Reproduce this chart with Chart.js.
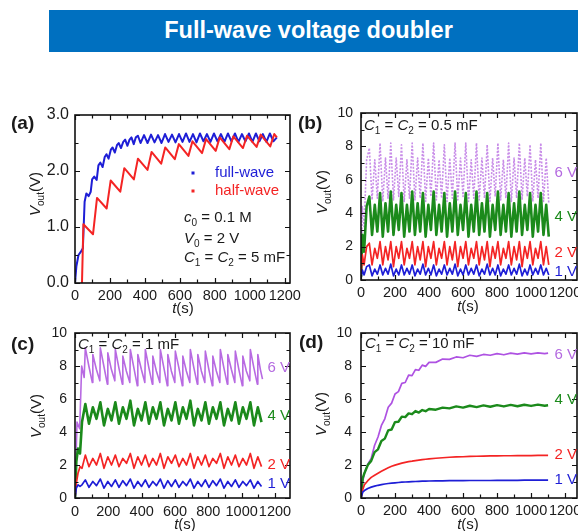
<!DOCTYPE html>
<html><head><meta charset="utf-8">
<script src="https://cdn.jsdelivr.net/npm/chart.js@4/dist/chart.umd.min.js"></script>
<style>
html,body{margin:0;padding:0;background:#fff;}
#wrap{position:relative;width:578px;height:531px;overflow:hidden;background:#fff;}
#wrap canvas{position:absolute;left:0;top:0;}
#banner{position:absolute;left:49px;top:10px;width:540px;height:42px;background:#0070c0;color:#fff;font:bold 23.5px "Liberation Sans",Arial,sans-serif;line-height:40px;}
#banner span{position:absolute;left:0;top:0;width:519px;text-align:center;}
</style></head>
<body><div id="wrap">
<div id="banner"><span>Full-wave voltage doubler</span></div>
<canvas id="ca" width="578" height="531"></canvas>
<canvas id="cb" width="578" height="531"></canvas>
<canvas id="cc" width="578" height="531"></canvas>
<canvas id="cd" width="578" height="531"></canvas>
</div>
<script>
// ---------- tick labels ----------
const X_TICKS = [0,100,200,300,400,500,600,700,800,900,1000,1100,1200];
const Y_TICKS_A = [0,0.5,1,1.5,2,2.5,3];
const Y_TICKS = [0,1,2,3,4,5,6,7,8,9,10];

// ---------- panel (a): C1 = C2 = 5 mF ----------
const A_FULL_T = [0,8,20,32,45,55,65,78,90,98,110,124,134,145,158,170,180,192,205,215,228,240,250,263,276,287,300,312,323,336,348,360,375,
  395,415,435,455,475,495,515,535,555,575,595,615,635,655,675,695,715,735,755,775,795,815,835,855,875,895,915,935,955,975,995,1015,1035,1055,1075,1095,1115,1135,1155];
const A_FULL_V = [0,0.3,0.5,0.55,0.62,1.45,1.6,1.55,1.63,1.85,1.9,1.84,2.1,2.15,2.07,2.25,2.3,2.22,2.38,2.42,2.33,2.46,2.5,2.41,2.52,2.56,2.45,2.56,2.6,2.48,2.6,2.63,2.5,
  2.64,2.5,2.65,2.51,2.64,2.5,2.66,2.52,2.65,2.51,2.66,2.52,2.67,2.52,2.66,2.51,2.67,2.53,2.66,2.52,2.67,2.53,2.66,2.52,2.67,2.53,2.67,2.52,2.66,2.53,2.67,2.52,2.67,2.53,2.66,2.52,2.67,2.53,2.6];
const A_HALF_T = [40,48,103,126,181,204,259,282,337,360,415,438,493,516,571,594,649,672,727,750,805,828,883,906,961,984,1039,1062,1117,1140,1155];
const A_HALF_V = [0,1.05,0.87,1.52,1.33,1.83,1.63,2.05,1.85,2.22,2.02,2.34,2.13,2.42,2.21,2.48,2.27,2.53,2.32,2.57,2.36,2.6,2.39,2.62,2.41,2.63,2.43,2.65,2.44,2.66,2.6];

// ---------- panel (b): C1 = C2 = 0.5 mF ----------
const B_T = [0,8,18,33,
  49,65,81,96, 112,128,144,159, 175,191,207,222, 238,254,270,285, 301,317,333,348, 364,380,396,411,
  427,443,459,474, 490,506,522,537, 553,569,585,600, 616,632,648,663, 679,695,711,726, 742,758,774,789,
  805,821,837,852, 868,884,900,915, 931,947,963,978, 994,1010,1026,1041, 1057,1073,1089,1104];
const B_6V = [0.3,4.4,3.2,7.2,
  7.9,4.8,7.2,4.9, 8.2,4.7,7.3,4.9, 8.2,4.8,7.3,5.0, 8.1,4.7,7.2,4.9, 8.2,4.8,7.3,4.9, 8.2,4.7,7.3,5.0,
  8.2,4.8,7.2,4.9, 8.1,4.7,7.3,4.9, 8.2,4.8,7.3,5.0, 8.2,4.7,7.2,4.9, 8.2,4.8,7.3,4.9, 8.1,4.7,7.3,5.0,
  8.2,4.8,7.2,4.9, 8.2,4.7,7.3,4.9, 8.2,4.8,7.3,5.0, 8.1,4.7,7.2,4.9, 8.2,4.7,7.3,4.6];
const B_4V = [0.2,2.7,1.7,4.4,
  5.0,2.7,4.5,2.9, 5.2,2.6,4.6,2.9, 5.3,2.7,4.5,3.0, 5.2,2.6,4.5,2.9, 5.3,2.7,4.6,2.9, 5.2,2.6,4.5,3.0,
  5.3,2.7,4.5,2.9, 5.2,2.6,4.6,2.9, 5.3,2.7,4.5,3.0, 5.2,2.6,4.5,2.9, 5.3,2.7,4.6,2.9, 5.2,2.6,4.5,3.0,
  5.3,2.7,4.5,2.9, 5.2,2.6,4.6,2.9, 5.3,2.7,4.5,3.0, 5.2,2.6,4.5,2.9, 5.2,2.7,4.5,2.6];
const B_2V = [0.2,1.5,0.9,2.0,
  2.2,0.9,1.9,1.3, 2.3,0.9,2.0,1.2, 2.3,0.8,2.0,1.3, 2.3,0.9,1.9,1.3, 2.3,0.9,2.0,1.2, 2.3,0.8,2.0,1.3,
  2.3,0.9,1.9,1.3, 2.3,0.9,2.0,1.2, 2.3,0.8,2.0,1.3, 2.3,0.9,1.9,1.3, 2.3,0.9,2.0,1.2, 2.3,0.8,2.0,1.3,
  2.3,0.9,1.9,1.3, 2.3,0.9,2.0,1.2, 2.3,0.8,2.0,1.3, 2.3,0.9,1.9,1.3, 2.3,0.9,2.0,0.9];
const B_1V = [0.1,0.6,0.3,0.8,
  0.9,0.25,0.65,0.35, 0.9,0.3,0.7,0.35, 0.95,0.25,0.65,0.3, 0.9,0.3,0.7,0.35, 0.9,0.25,0.65,0.35, 0.95,0.3,0.7,0.3,
  0.9,0.25,0.65,0.35, 0.9,0.3,0.7,0.35, 0.95,0.25,0.65,0.3, 0.9,0.3,0.7,0.35, 0.9,0.25,0.65,0.35, 0.95,0.3,0.7,0.3,
  0.9,0.25,0.65,0.35, 0.9,0.3,0.7,0.35, 0.95,0.25,0.65,0.3, 0.9,0.3,0.7,0.35, 0.9,0.3,0.7,0.3];

// ---------- panel (c): C1 = C2 = 1 mF ----------
const C6_T = [0,12,28,40,55,
  62,83,104, 107,128,149, 152,173,194, 197,218,239, 242,263,284, 287,308,329, 332,353,374, 377,398,419,
  422,443,464, 467,488,509, 512,533,554, 557,578,599, 602,623,644, 647,668,689, 692,713,734, 737,758,779,
  782,803,824, 827,848,869, 872,893,914, 917,938,959, 962,983,1004, 1007,1028,1049, 1052,1073,1094, 1097,1112,1125];
const C_6V = [0,4.6,4.2,8.0,7.3,
  9.1,8.0,7.0, 8.7,7.8,7.1, 9.1,8.0,6.9, 8.8,7.8,7.1, 9.0,7.9,6.9, 8.6,7.7,7.0, 9.0,7.9,6.8, 8.7,7.8,7.0,
  9.0,7.9,6.9, 8.6,7.7,7.0, 9.0,7.9,6.8, 8.7,7.7,7.0, 8.9,7.9,6.8, 8.6,7.7,7.0, 9.0,7.9,6.9, 8.7,7.7,7.0,
  8.9,7.8,6.8, 8.6,7.7,7.0, 9.0,7.9,6.9, 8.7,7.8,7.0, 8.9,7.8,6.8, 8.6,7.7,7.1, 9.0,7.9,6.9, 8.7,7.8,7.2];
const C_T = [0,8,18,30,42,
  62,84,107,129,152,174,197,219,242,264,287,309,332,354,377,399,422,444,467,489,512,534,557,579,
  602,624,647,669,692,714,737,759,782,804,827,849,872,894,917,939,962,984,1007,1029,1052,1074,1097,1119];
const C_4V = [0,2.2,3.0,2.7,4.6,
  5.7,4.5,5.5,4.8, 5.8,4.4,5.4,4.7, 5.8,4.5,5.5,4.8, 5.9,4.4,5.4,4.7, 5.8,4.5,5.5,4.8, 5.8,4.4,5.4,4.7,
  5.8,4.5,5.5,4.8, 5.9,4.4,5.4,4.7, 5.8,4.5,5.5,4.8, 5.8,4.4,5.4,4.7, 5.8,4.5,5.5,4.8, 5.8,4.4,5.5,4.6];
const C_2V = [0,0.9,1.5,1.9,1.8,
  2.6,1.9,2.4,2.0, 2.7,1.8,2.5,2.0, 2.6,1.9,2.4,2.1, 2.7,1.8,2.5,2.0, 2.6,1.9,2.4,2.0, 2.7,1.8,2.5,2.1,
  2.6,1.9,2.4,2.0, 2.7,1.8,2.5,2.0, 2.6,1.9,2.4,2.1, 2.7,1.8,2.5,2.0, 2.6,1.9,2.4,2.0, 2.7,1.8,2.5,1.9];
const C_1V = [0,0.6,0.8,0.7,0.8,
  1.1,0.65,1.0,0.75, 1.15,0.6,1.0,0.7, 1.1,0.65,1.05,0.75, 1.15,0.6,1.0,0.7, 1.1,0.65,1.0,0.75, 1.15,0.6,1.05,0.7,
  1.1,0.65,1.0,0.75, 1.15,0.6,1.0,0.7, 1.1,0.65,1.05,0.75, 1.15,0.6,1.0,0.7, 1.1,0.65,1.0,0.75, 1.1,0.6,1.0,0.7];

// ---------- panel (d): C1 = C2 = 10 mF ----------
const D_T = [0,10,20,40,60,80,100,120,140,160,180,200,220,240,260,280,300,320,340,360,380,400,440,480,520,560,600,640,680,720,760,800,840,880,920,960,1000,1040,1080,1100];
const D_6V = [0,1.0,1.5,2.05,2.4,3.2,3.7,4.4,4.8,5.5,5.75,6.3,6.45,6.95,7.0,7.45,7.42,7.78,7.74,8.05,7.98,8.22,8.22,8.42,8.4,8.55,8.5,8.65,8.58,8.7,8.65,8.75,8.68,8.78,8.72,8.8,8.74,8.8,8.75,8.78];
const D_4V = [0,1.2,1.5,2.0,2.25,2.78,2.95,3.45,3.6,4.1,4.15,4.6,4.62,4.93,4.9,5.13,5.08,5.27,5.18,5.33,5.26,5.39,5.35,5.48,5.43,5.55,5.48,5.59,5.51,5.61,5.53,5.63,5.55,5.64,5.56,5.65,5.58,5.66,5.59,5.62];
const D_2V = [0,0.5,0.8,1.05,1.25,1.38,1.5,1.62,1.73,1.83,1.92,1.99,2.05,2.11,2.16,2.2,2.23,2.27,2.3,2.33,2.35,2.37,2.41,2.44,2.47,2.49,2.5,2.52,2.53,2.54,2.55,2.55,2.56,2.56,2.57,2.57,2.57,2.58,2.58,2.58];
const D_1V = [0,0.35,0.45,0.58,0.66,0.72,0.77,0.81,0.85,0.88,0.9,0.92,0.94,0.96,0.97,0.98,0.99,1.0,1.01,1.02,1.02,1.03,1.04,1.04,1.05,1.05,1.05,1.06,1.06,1.06,1.06,1.07,1.07,1.07,1.07,1.08,1.08,1.08,1.08,1.08];

// ---------- styling ----------
const FAM = '"Liberation Sans", Arial, Helvetica, sans-serif';
const BLUE = '#1e1ed6', RED = '#f42424', GREEN = '#1b8a1b';
const PURPLE_B = '#c88de8', PURPLE_C = '#b86ae2', PURPLE_D = '#ae52e2';
Chart.defaults.font.family = FAM;
Chart.defaults.color = '#1a1a1a';

function fontFor(flags, size) {
  const sub = flags.indexOf('s') >= 0;
  return (flags.indexOf('i') >= 0 ? 'italic ' : '') + (flags.indexOf('b') >= 0 ? 'bold ' : '') +
         (sub ? Math.round(size * 0.68) : size) + 'px ' + FAM;
}
function drawRich(ctx, it) {
  const size = it.size || 15;
  ctx.save();
  ctx.translate(it.x, it.y);
  if (it.rot) ctx.rotate(-Math.PI / 2);
  ctx.textBaseline = 'middle';
  ctx.textAlign = 'left';
  let w = 0;
  const widths = it.parts.map(p => { ctx.font = fontFor(p[1], size); const m = ctx.measureText(p[0]).width; w += m; return m; });
  let x = it.align === 'right' ? -w : (it.align === 'center' ? -w / 2 : 0);
  ctx.fillStyle = it.color || '#1a1a1a';
  it.parts.forEach((p, i) => {
    ctx.font = fontFor(p[1], size);
    const dy = p[1].indexOf('s') >= 0 ? size * 0.33 : 0;
    ctx.fillText(p[0], x, dy);
    x += widths[i];
  });
  ctx.restore();
}
function textPlugin(items) {
  return { id: 'richText', afterDraw(chart) {
    const ctx = chart.ctx;
    items.forEach(it => {
      if (it.dot) { ctx.save(); ctx.fillStyle = it.color; ctx.fillRect(it.x - 1.5, it.y - 1.5, 3, 3); ctx.restore(); }
      else drawRich(ctx, it);
    });
  }};
}
const framePlugin = { id: 'frame', afterDatasetsDraw(chart) {
  const { ctx, chartArea: a, scales: { x, y } } = chart;
  ctx.save();
  ctx.strokeStyle = '#111';
  ctx.lineWidth = 1.2;
  ctx.beginPath();
  x.ticks.forEach(t => {
    const p = Math.round(x.getPixelForValue(t.value)) + 0.5;
    const L = t.label !== '' ? 5 : 3.5;
    ctx.moveTo(p, a.bottom); ctx.lineTo(p, a.bottom - L);
    ctx.moveTo(p, a.top); ctx.lineTo(p, a.top + L);
  });
  y.ticks.forEach(t => {
    const p = Math.round(y.getPixelForValue(t.value)) + 0.5;
    const L = t.label !== '' ? 5 : 3.5;
    ctx.moveTo(a.left, p); ctx.lineTo(a.left + L, p);
    ctx.moveTo(a.right, p); ctx.lineTo(a.right - L, p);
  });
  ctx.stroke();
  ctx.lineWidth = 1.6;
  ctx.strokeRect(a.left, a.top, a.right - a.left, a.bottom - a.top);
  ctx.restore();
}};

function series(T, V, color, w, dash) {
  return { data: T.map((t, i) => ({ x: t, y: V[i] })), borderColor: color, borderWidth: w,
           borderDash: dash || [], pointRadius: 0, tension: 0, fill: false, borderJoinStyle: 'round' };
}

function panel(id, c) {
  const YW = 50, XH = 32;
  new Chart(document.getElementById(id), {
    type: 'line',
    data: { datasets: c.datasets },
    options: {
      responsive: false, animation: false, events: [],
      layout: { padding: { left: c.area.l - YW, top: c.area.t, right: 578 - c.area.r, bottom: 531 - c.area.b - XH } },
      plugins: { legend: { display: false }, tooltip: { enabled: false } },
      scales: {
        x: { type: 'linear', min: 0, max: c.xmax,
             afterBuildTicks: s => { s.ticks = X_TICKS.map(v => ({ value: v })); },
             afterFit: s => { s.height = XH; s.paddingLeft = 0; s.paddingRight = 0; },
             grid: { display: false, drawTicks: false }, border: { display: false },
             ticks: { autoSkip: false, maxRotation: 0, minRotation: 0, padding: c.xpad, font: { size: 14.5 }, color: '#1a1a1a',
                      callback: v => (v % 200 === 0 ? String(v) : '') } },
        y: { type: 'linear', min: 0, max: c.ymax,
             afterBuildTicks: s => { s.ticks = c.yticks.map(v => ({ value: v })); },
             afterFit: s => { s.width = YW; s.paddingTop = 0; s.paddingBottom = 0; },
             grid: { display: false, drawTicks: false }, border: { display: false },
             ticks: { autoSkip: false, padding: c.ypad, font: { size: c.yfont }, color: '#1a1a1a', callback: c.ycb } }
      }
    },
    plugins: [framePlugin, textPlugin(c.texts)]
  });
}

const VOUT = [['V', 'i'], ['out', 's'], ['(V)', '']];
const TS = [['t', 'i'], ['(s)', '']];
function cc(v) { return [['C', 'i'], ['1', 's'], [' = ', ''], ['C', 'i'], ['2', 's'], [' = ' + v + ' mF', '']]; }

panel('ca', {
  area: { l: 75, t: 115, r: 290, b: 283 }, xmax: 1230, ymax: 3, yticks: Y_TICKS_A, yfont: 16, ypad: 6, xpad: 4,
  ycb: v => (Number.isInteger(v) ? v.toFixed(1) : ''),
  datasets: [series(A_HALF_T, A_HALF_V, RED, 2), series(A_FULL_T, A_FULL_V, BLUE, 2)],
  texts: [
    { x: 11, y: 124, parts: [['(a)', 'b']], size: 19 },
    { x: 36, y: 194, parts: VOUT, size: 15, rot: true, align: 'center' },
    { x: 183, y: 309, parts: TS, size: 15, align: 'center' },
    { dot: true, x: 193, y: 173, color: BLUE },
    { x: 215, y: 173, parts: [['full-wave', '']], size: 15, color: BLUE },
    { dot: true, x: 193, y: 191, color: RED },
    { x: 215, y: 191, parts: [['half-wave', '']], size: 15, color: RED },
    { x: 184, y: 218, parts: [['c', 'i'], ['0', 's'], [' = 0.1 M', '']], size: 15 },
    { x: 184, y: 239, parts: [['V', 'i'], ['0', 's'], [' = 2 V', '']], size: 15 },
    { x: 184, y: 258, parts: cc('5'), size: 15 }
  ]
});

panel('cb', {
  area: { l: 361, t: 113, r: 577, b: 280 }, xmax: 1270, ymax: 10, yticks: Y_TICKS, yfont: 14, ypad: 8, xpad: 4,
  ycb: v => (v % 2 === 0 ? String(v) : ''),
  datasets: [series(B_T, B_1V, BLUE, 1.7), series(B_T, B_2V, RED, 1.7), series(B_T, B_4V, GREEN, 2.6),
             series(B_T, B_6V, PURPLE_B, 1.6, [2, 1.5])],
  texts: [
    { x: 298, y: 124, parts: [['(b)', 'b']], size: 19 },
    { x: 323, y: 192, parts: VOUT, size: 15, rot: true, align: 'center' },
    { x: 468, y: 307, parts: TS, size: 15, align: 'center' },
    { x: 364, y: 126, parts: cc('0.5'), size: 15 },
    { x: 577, y: 173, parts: [['6 V', '']], size: 15, color: '#b46ae0', align: 'right' },
    { x: 577, y: 217, parts: [['4 V', '']], size: 15, color: GREEN, align: 'right' },
    { x: 577, y: 253, parts: [['2 V', '']], size: 15, color: RED, align: 'right' },
    { x: 577, y: 272, parts: [['1 V', '']], size: 15, color: BLUE, align: 'right' }
  ]
});

panel('cc', {
  area: { l: 75, t: 333, r: 290, b: 498 }, xmax: 1290, ymax: 10, yticks: Y_TICKS, yfont: 14, ypad: 8, xpad: 5,
  ycb: v => (v % 2 === 0 ? String(v) : ''),
  datasets: [series(C_T, C_1V, BLUE, 1.7), series(C_T, C_2V, RED, 1.7), series(C_T, C_4V, GREEN, 2.6),
             series(C6_T, C_6V, PURPLE_C, 1.6)],
  texts: [
    { x: 11, y: 345, parts: [['(c)', 'b']], size: 19 },
    { x: 37, y: 416, parts: VOUT, size: 15, rot: true, align: 'center' },
    { x: 185, y: 525, parts: TS, size: 15, align: 'center' },
    { x: 78, y: 345, parts: cc('1'), size: 15 },
    { x: 290, y: 368, parts: [['6 V', '']], size: 15, color: '#b46ae0', align: 'right' },
    { x: 290, y: 416, parts: [['4 V', '']], size: 15, color: GREEN, align: 'right' },
    { x: 290, y: 465, parts: [['2 V', '']], size: 15, color: RED, align: 'right' },
    { x: 290, y: 484, parts: [['1 V', '']], size: 15, color: BLUE, align: 'right' }
  ]
});

panel('cd', {
  area: { l: 361, t: 333, r: 577, b: 498 }, xmax: 1270, ymax: 10, yticks: Y_TICKS, yfont: 14, ypad: 9, xpad: 4,
  ycb: v => (v % 2 === 0 ? String(v) : ''),
  datasets: [series(D_T, D_1V, BLUE, 1.7), series(D_T, D_2V, RED, 1.7), series(D_T, D_4V, GREEN, 2.4),
             series(D_T, D_6V, PURPLE_D, 1.7)],
  texts: [
    { x: 299, y: 343, parts: [['(d)', 'b']], size: 19 },
    { x: 322, y: 414, parts: VOUT, size: 15, rot: true, align: 'center' },
    { x: 468, y: 525, parts: TS, size: 15, align: 'center' },
    { x: 365, y: 344, parts: cc('10'), size: 15 },
    { x: 577, y: 355, parts: [['6 V', '']], size: 15, color: '#b46ae0', align: 'right' },
    { x: 577, y: 400, parts: [['4 V', '']], size: 15, color: GREEN, align: 'right' },
    { x: 577, y: 455, parts: [['2 V', '']], size: 15, color: RED, align: 'right' },
    { x: 577, y: 480, parts: [['1 V', '']], size: 15, color: BLUE, align: 'right' }
  ]
});
</script>
</body></html>
